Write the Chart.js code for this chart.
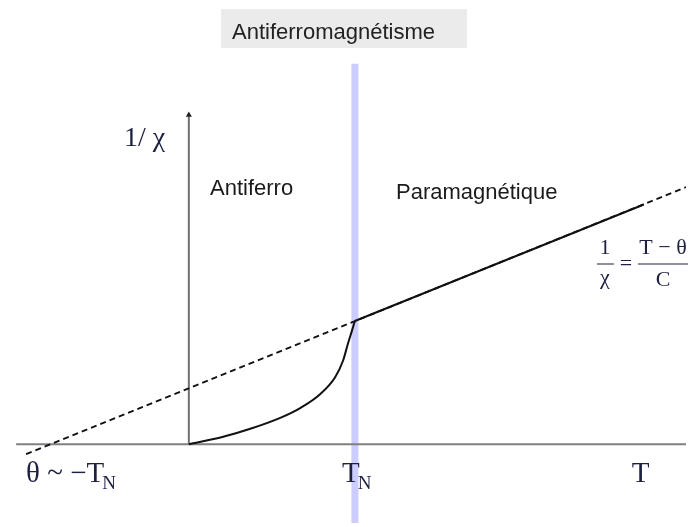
<!DOCTYPE html>
<html>
<head>
<meta charset="utf-8">
<script src="https://cdn.jsdelivr.net/npm/chart.js@4.4.1/dist/chart.umd.min.js"></script>
<style>
  html, body { margin: 0; padding: 0; background: #ffffff; }
  canvas { display: block; }
</style>
</head>
<body>
<canvas id="c" width="690" height="527"></canvas>
<script>
// Temperature in units of T_N, inverse susceptibility 1/χ in arbitrary units
const TN = 1;
const thetaT = -0.98;

// Antiferromagnetic branch: 1/χ rises from 0 up to T_N
const afT      = [0, 0.196, 0.375, 0.554, 0.673, 0.792, 0.881, 0.929, 0.958, 0.982, 1.0];
const afInvChi = [0, 0.042, 0.095, 0.161, 0.220, 0.304, 0.405, 0.506, 0.607, 0.685, 0.745];

// Paramagnetic branch: Curie–Weiss straight line above T_N
const paraT      = [1.0, 2.74];
const paraInvChi = [0.745, 1.449];

// Curie–Weiss asymptote 1/χ = (T − θ)/C, drawn dashed
const asymT      = [thetaT, 2.994];
const asymInvChi = [-0.06, 1.554];

// Axis extents
const xAxisT   = [-1.04, 2.994];
const yAxisTop = 1.99;

// Tick labels under the temperature axis
const tickT      = [thetaT, TN, 2.72];
const tickLabels = [["θ ~ −T", "N"], ["T", "N"], ["T", ""]];

const pts = (xs, ys) => xs.map((x, i) => ({ x, y: ys[i] }));

const SERIF = '"Liberation Serif", "DejaVu Serif", serif';
const SANS  = '"Liberation Sans", Arial, sans-serif';
const INK   = '#1e2040';

const annotations = {
  id: 'annotations',
  afterDatasetsDraw(chart) {
    const { ctx } = chart;
    const xs = chart.scales.x, ys = chart.scales.y;
    ctx.save();

    // Title box
    ctx.fillStyle = '#ebebeb';
    ctx.fillRect(221, 9, 246, 39);
    ctx.fillStyle = '#222222';
    ctx.font = '22px ' + SANS;
    ctx.textBaseline = 'alphabetic';
    ctx.textAlign = 'left';
    ctx.fillText('Antiferromagnétisme', 232, 39);

    // Region labels
    ctx.fillStyle = '#1a1a1a';
    ctx.fillText('Antiferro', 210, 195);
    ctx.fillText('Paramagnétique', 396, 199);

    // Y axis label
    ctx.fillStyle = INK;
    ctx.font = '28px ' + SERIF;
    ctx.fillText('1/ χ', 124, 146);

    // Tick labels below the T axis
    const y0 = ys.getPixelForValue(0);
    tickLabels.forEach(([main, sub], i) => {
      const px = xs.getPixelForValue(tickT[i]);
      ctx.font = '29px ' + SERIF;
      ctx.textAlign = 'left';
      const w = ctx.measureText(main).width;
      const left = i === 0 ? px : px - w / 2 - (sub ? 4 : 0);
      ctx.fillText(main, left, y0 + 38);
      if (sub) {
        ctx.font = '19px ' + SERIF;
        ctx.fillText(sub, left + w - 2, y0 + 45);
      }
    });

    // Curie–Weiss formula: 1/χ = (T − θ)/C
    ctx.font = '22px ' + SERIF;
    ctx.textAlign = 'center';
    ctx.fillText('1', 605, 254);
    ctx.fillText('χ', 605, 284);
    ctx.fillText('=', 626, 270);
    ctx.fillText('T − θ', 663, 254);
    ctx.fillText('C', 663, 286);
    ctx.strokeStyle = INK;
    ctx.lineWidth = 1.2;
    ctx.beginPath();
    ctx.moveTo(597, 264); ctx.lineTo(614, 264);
    ctx.moveTo(638, 264); ctx.lineTo(688, 264);
    ctx.stroke();

    ctx.restore();
  }
};

new Chart(document.getElementById('c'), {
  type: 'scatter',
  data: {
    datasets: [
      {
        label: 'T_N',
        data: [{ x: TN, y: -0.5 }, { x: TN, y: 2.30 }],
        showLine: true, borderColor: 'rgba(195,195,255,0.85)', borderWidth: 7,
        pointRadius: 0, order: 5
      },
      {
        label: 'T axis',
        data: [{ x: xAxisT[0], y: 0 }, { x: xAxisT[1], y: 0 }],
        showLine: true, borderColor: '#808080', borderWidth: 2,
        pointRadius: 0, order: 4
      },
      {
        label: '1/χ axis',
        data: [{ x: 0, y: 0 }, { x: 0, y: yAxisTop }],
        showLine: true, borderColor: '#707070', borderWidth: 2,
        pointRadius: [0, 3.5], pointStyle: 'triangle',
        pointBackgroundColor: '#222', pointBorderColor: '#222', pointBorderWidth: 0,
        order: 4
      },
      {
        label: 'Curie–Weiss',
        data: pts(asymT, asymInvChi),
        showLine: true, borderColor: '#111', borderWidth: 1.8, borderDash: [6, 4],
        pointRadius: 0, order: 3
      },
      {
        label: '1/χ (antiferro)',
        data: pts(afT, afInvChi),
        showLine: true, borderColor: '#111', borderWidth: 2,
        cubicInterpolationMode: 'monotone',
        pointRadius: 0, order: 1
      },
      {
        label: '1/χ (para)',
        data: pts(paraT, paraInvChi),
        showLine: true, borderColor: '#111', borderWidth: 2, tension: 0,
        pointRadius: 0, order: 1
      }
    ]
  },
  options: {
    responsive: false,
    animation: false,
    layout: { padding: 0 },
    plugins: { legend: { display: false }, tooltip: { enabled: false }, title: { display: false } },
    scales: {
      x: { type: 'linear', display: false, min: -1.1131, max: 2.994 },
      y: { type: 'linear', display: false, min: -0.4762, max: 2.6607 }
    }
  },
  plugins: [annotations]
});
</script>
</body>
</html>
